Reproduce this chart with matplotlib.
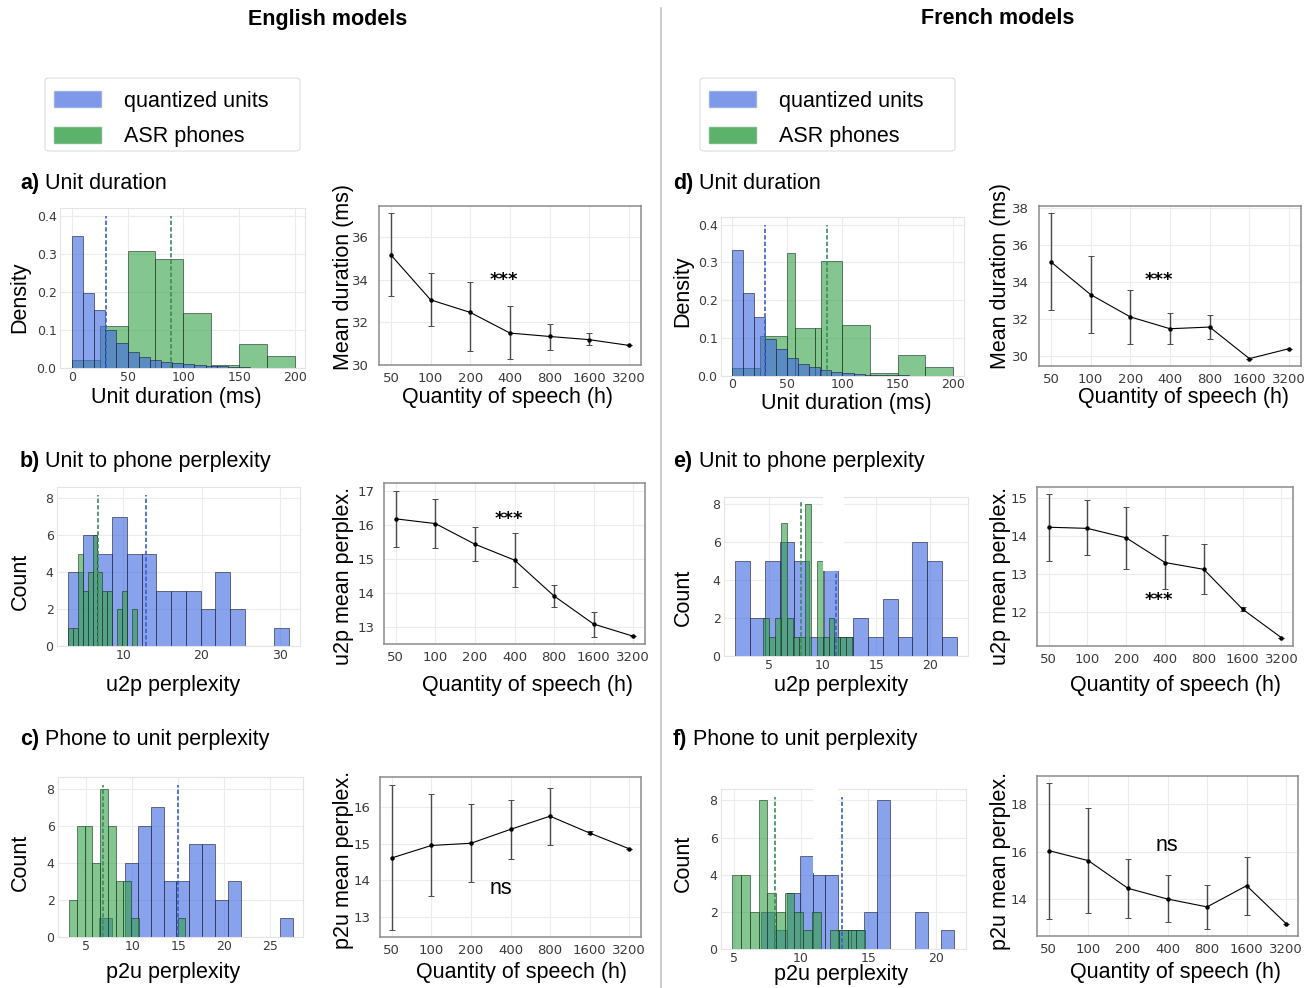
import numpy as np
import matplotlib
matplotlib.use("Agg")
import matplotlib.pyplot as plt
from matplotlib.patches import Patch, Rectangle, FancyBboxPatch
from matplotlib.lines import Line2D
from matplotlib.transforms import blended_transform_factory

W, H = 1313, 988
plt.rcParams["font.family"] = ["Liberation Sans", "DejaVu Sans"]

hours = ["50", "100", "200", "400", "800", "1600", "3200"]

# ---------------- English: unit duration (density) ----------------
en_dur_unit_edges = [0, 10, 20, 30, 40, 50, 60, 70, 80, 90, 100, 110, 120, 130, 140, 150, 160]
en_dur_unit = [0.347, 0.199, 0.152, 0.101, 0.067, 0.043, 0.030, 0.022, 0.017, 0.012,
               0.0097, 0.007, 0.005, 0.004, 0.0035, 0.0026]
en_dur_asr_edges = [0, 25, 50, 75, 100, 125, 150, 175, 200]
en_dur_asr = [0.022, 0.110, 0.308, 0.288, 0.145, 0.007, 0.064, 0.032]
en_dur_means = (30.7, 88.7)  # units, phones

en_dur_mean = [35.17, 33.06, 32.47, 31.50, 31.34, 31.19, 30.92]
en_dur_hi = [37.13, 34.31, 33.88, 32.75, 31.94, 31.50, 30.92]
en_dur_lo = [33.25, 31.84, 30.64, 30.28, 30.72, 30.92, 30.92]

# ---------------- English: u2p perplexity (count) ----------------
en_u2p_unit_edges = [2.9, 4.79, 6.67, 8.56, 10.45, 12.33, 14.22, 16.11, 18.0, 19.88,
                     21.77, 23.66, 25.54, 27.43, 29.32, 31.2]
en_u2p_unit = [4, 6, 5, 7, 5, 5, 3, 3, 3, 2, 4, 2, 0, 0, 1]
en_u2p_asr_edges = [2.9, 3.53, 4.16, 4.79, 5.42, 6.05, 6.67, 7.3, 7.93, 8.56, 9.19,
                    9.82, 10.45, 11.08, 11.7]
en_u2p_asr = [1, 1, 5, 3, 4, 6, 4, 3, 3, 0, 2, 3, 0, 2]
en_u2p_means = (12.85, 6.72)

en_u2p_mean = [16.19, 16.05, 15.44, 14.97, 13.91, 13.08, 12.72]
en_u2p_hi = [17.02, 16.77, 15.94, 15.77, 14.23, 13.44, 12.72]
en_u2p_lo = [15.37, 15.33, 14.94, 14.17, 13.58, 12.71, 12.72]

# ---------------- English: p2u perplexity (count) ----------------
en_p2u_unit_edges = [6.38, 7.79, 9.2, 10.6, 12.0, 13.4, 14.8, 16.2, 17.6, 19.0, 20.4,
                     21.8, 23.3, 24.7, 26.1, 27.5]
en_p2u_unit = [1, 0, 4, 6, 7, 3, 3, 5, 5, 2, 3, 0, 0, 0, 1]
en_p2u_asr_edges = [3.11, 3.95, 4.8, 5.64, 6.49, 7.33, 8.17, 9.02, 9.86, 10.71, 11.55,
                    12.39, 13.24, 14.08, 14.93, 15.77]
en_p2u_asr = [2, 6, 6, 4, 8, 6, 3, 3, 1, 0, 0, 0, 0, 0, 1]
en_p2u_means = (14.93, 6.75)

en_p2u_mean = [14.61, 14.95, 15.01, 15.39, 15.75, 15.29, 14.86]
en_p2u_hi = [16.59, 16.36, 16.09, 16.20, 16.53, 15.34, 14.86]
en_p2u_lo = [12.63, 13.56, 13.94, 14.58, 14.95, 15.25, 14.86]

# ---------------- French: unit duration (density) ----------------
fr_dur_unit_edges = [0, 10, 20, 30, 40, 50, 60, 70, 80, 90, 100, 110, 120, 130, 140, 150, 160]
fr_dur_unit = [0.332, 0.218, 0.155, 0.099, 0.070, 0.048, 0.033, 0.023, 0.016, 0.0105,
               0.007, 0.005, 0.0035, 0.0026, 0.002, 0.0015]
fr_dur_asr_edges = [0, 25, 50, 57, 75, 81, 100, 125, 150, 175, 200]
fr_dur_asr = [0.022, 0.106, 0.326, 0.127, 0.127, 0.305, 0.135, 0.007, 0.055, 0.024]
fr_dur_means = (30.1, 85.7)

fr_dur_mean = [35.10, 33.33, 32.12, 31.48, 31.57, 29.86, 30.40]
fr_dur_hi = [37.73, 35.41, 33.57, 32.33, 32.20, 29.86, 30.40]
fr_dur_lo = [32.52, 31.26, 30.67, 30.63, 30.90, 29.86, 30.40]

# ---------------- French: u2p perplexity (count) ----------------
fr_u2p_unit_edges = [1.86, 3.24, 4.61, 5.99, 7.36, 8.74, 10.12, 11.49, 12.87, 14.24,
                     15.62, 17.0, 18.37, 19.75, 21.12, 22.5]
fr_u2p_unit = [5, 2, 5, 6, 5, 1, 5, 1, 2, 1, 3, 1, 6, 5, 1]
fr_u2p_asr_edges = [4.44, 5.0, 5.55, 6.11, 6.66, 7.22, 7.78, 8.33, 8.89, 9.44, 10.0,
                    10.56, 11.11, 11.67, 12.22, 12.78]
fr_u2p_asr = [2, 1, 2, 7, 2, 1, 1, 8, 0, 5, 1, 2, 1, 1, 1]
fr_u2p_means = (11.27, 8.01)

fr_u2p_mean = [14.23, 14.20, 13.95, 13.30, 13.12, 12.07, 11.32]
fr_u2p_hi = [15.10, 14.94, 14.75, 14.02, 13.80, 12.13, 11.32]
fr_u2p_lo = [13.34, 13.49, 13.14, 12.59, 12.46, 12.02, 11.32]

# ---------------- French: p2u perplexity (count) ----------------
fr_p2u_unit_edges = [7.05, 8.0, 8.96, 9.91, 10.87, 11.82, 12.78, 13.73, 14.68, 15.64,
                     16.59, 17.55, 18.5, 19.46, 20.41, 21.37]
fr_p2u_unit = [2, 1, 3, 5, 4, 4, 1, 1, 2, 8, 0, 0, 2, 0, 1]
fr_p2u_asr_edges = [4.88, 5.54, 6.2, 6.86, 7.52, 8.18, 8.84, 9.5, 10.16, 10.82, 11.48,
                    12.14, 12.8, 13.46, 14.12, 14.78]
fr_p2u_asr = [4, 4, 2, 8, 3, 2, 3, 2, 1, 2, 0, 1, 1, 1, 1]
fr_p2u_means = (13.03, 8.09)

fr_p2u_mean = [16.04, 15.62, 14.46, 14.01, 13.68, 14.57, 12.98]
fr_p2u_hi = [18.87, 17.82, 15.68, 15.00, 14.59, 15.76, 12.98]
fr_p2u_lo = [13.19, 13.41, 13.20, 13.03, 12.74, 13.36, 12.98]

BLUE = "royalblue"
GREEN = "#32a046"
BLUE_LINE = "#3a5fcd"
GREEN_LINE = "#3d8c5a"
FS = 15.5

fig = plt.figure(figsize=(W / 100, H / 100), dpi=100)


def add_ax(l, t, r, b):
    return fig.add_axes([l / W, 1 - b / H, (r - l) / W, (b - t) / H])


def style_ticks(ax, size):
    ax.tick_params(length=0, labelsize=size, labelcolor="#3a3a3a",
                   labelfontfamily="DejaVu Sans")


def labels(ax, xlabel, xpos, ylabel, ypos):
    ax.set_xlabel(xlabel, fontsize=FS, va="center")
    ax.xaxis.set_label_coords(xpos[0] / W, 1 - xpos[1] / H, transform=fig.transFigure)
    ax.set_ylabel(ylabel, fontsize=FS, va="center")
    ax.yaxis.set_label_coords(ypos[0] / W, 1 - ypos[1] / H, transform=fig.transFigure)


def hist_panel(box, ue, uv, ge, gv, means, top, blue_on_top, xlim, ylim, xticks, yticks):
    ax = add_ax(*box)
    zb, zg = (3, 2) if blue_on_top else (2, 3)
    ax.hist(ue[:-1], bins=ue, weights=uv, color=BLUE, alpha=0.62,
            edgecolor="#1c2340", linewidth=0.7, zorder=zb)
    ax.hist(ge[:-1], bins=ge, weights=gv, color=GREEN, alpha=0.6,
            edgecolor="#1c3322", linewidth=0.7, zorder=zg)
    dash = (0, (2.6, 1.3))
    ax.vlines(means[0], 0, top, colors=BLUE_LINE, linestyles=dash, lw=1.2, zorder=4)
    ax.vlines(means[1], 0, top, colors=GREEN_LINE, linestyles=dash, lw=1.2, zorder=4)
    ax.set_xlim(*xlim)
    ax.set_ylim(*ylim)
    ax.set_xticks(xticks)
    ax.set_yticks(yticks)
    ax.grid(True, color="#ececec", lw=0.8)
    ax.set_axisbelow(True)
    for s in ax.spines.values():
        s.set_color("#e4e4e4")
    style_ticks(ax, 9)
    ax.tick_params(pad=2.5)
    return ax


def line_panel(box, mean, lo, hi, ylim, yticks, mark, mark_xy, mark_fs, mark_family, mark_w):
    ax = add_ax(*box)
    x = np.arange(len(hours))
    m = np.array(mean)
    err = [m - np.array(lo), np.array(hi) - m]
    ax.errorbar(x, m, yerr=err, color="black", lw=0.8, marker="o", ms=2.2,
                ecolor="#4a4a4a", elinewidth=1.0, capsize=2, capthick=0.7)
    ax.text(mark_xy[0], mark_xy[1], mark, ha="center", va="center",
            fontsize=mark_fs, family=mark_family, weight=mark_w)
    ax.set_xticks(x, hours)
    ax.set_yticks(yticks)
    ax.set_xlim(-0.3, 6.3)
    ax.set_ylim(*ylim)
    ax.grid(True, color="#ececec", lw=0.8)
    ax.set_axisbelow(True)
    for s in ax.spines.values():
        s.set_color("#8c8c8c")
        s.set_linewidth(1.1)
    style_ticks(ax, 9.5)
    ax.tick_params(axis="x", pad=5)
    ax.tick_params(axis="y", pad=7)
    return ax


def white_patch(ax, x0, x1, y0):
    tr = blended_transform_factory(ax.transData, ax.transAxes)
    ylo = ax.transLimits.transform((0, y0))[1]
    ax.add_patch(Rectangle((x0, ylo), x1 - x0, 1.05 - ylo, transform=tr,
                           facecolor="white", edgecolor="none", zorder=5, clip_on=False))


# ---------------- English column ----------------
ax = hist_panel((60, 208, 305, 368), en_dur_unit_edges, en_dur_unit, en_dur_asr_edges,
                en_dur_asr, en_dur_means, 0.4, True, (-10.5, 209), (0, 0.422),
                [0, 50, 100, 150, 200], [0, 0.1, 0.2, 0.3, 0.4])
labels(ax, "Unit duration (ms)", (176, 398), "Density", (20, 297))

ax = line_panel((379, 206, 641, 365), en_dur_mean, en_dur_lo, en_dur_hi, (30, 37.47),
                [30, 32, 34, 36], "***", (2.85, 34.0), 13, "DejaVu Sans", "bold")
labels(ax, "Quantity of speech (h)", (507, 398), "Mean duration (ms)", (343, 277))

ax = hist_panel((57, 487, 300, 646), en_u2p_unit_edges, en_u2p_unit, en_u2p_asr_edges,
                en_u2p_asr, en_u2p_means, 8.18, False, (1.5, 32.6), (0, 8.6),
                [10, 20, 30], [0, 2, 4, 6, 8])
labels(ax, "u2p perplexity", (173, 686), "Count", (20, 581))

ax = line_panel((384, 483, 645, 644), en_u2p_mean, en_u2p_lo, en_u2p_hi, (12.49, 17.25),
                [13, 14, 15, 16, 17], "***", (2.87, 16.2), 13, "DejaVu Sans", "bold")
labels(ax, "Quantity of speech (h)", (527, 686), "u2p mean perplex.", (343, 576))

ax = hist_panel((58, 777, 303, 937), en_p2u_unit_edges, en_p2u_unit, en_p2u_asr_edges,
                en_p2u_asr, en_p2u_means, 8.2, False, (1.9, 28.6), (0, 8.63),
                [5, 10, 15, 20, 25], [0, 2, 4, 6, 8])
labels(ax, "p2u perplexity", (173, 972), "Count", (20, 862))

ax = line_panel((380, 777, 641, 937), en_p2u_mean, en_p2u_lo, en_p2u_hi, (12.45, 16.82),
                [13, 14, 15, 16], "ns", (2.76, 13.77), 15.5, "Liberation Sans", "normal")
labels(ax, "Quantity of speech (h)", (521, 972), "p2u mean perplex.", (343, 860))

# ---------------- French column ----------------
ax = hist_panel((721, 217, 964, 376), fr_dur_unit_edges, fr_dur_unit, fr_dur_asr_edges,
                fr_dur_asr, fr_dur_means, 0.4, True, (-9.9, 209.9), (0, 0.42),
                [0, 50, 100, 150, 200], [0, 0.1, 0.2, 0.3, 0.4])
ax.tick_params(axis="x", pad=1.5)
labels(ax, "Unit duration (ms)", (846, 403), "Density", (683, 291))

ax = line_panel((1039, 206, 1301, 366), fr_dur_mean, fr_dur_lo, fr_dur_hi, (29.46, 38.13),
                [30, 32, 34, 36, 38], "***", (2.71, 34.1), 13, "DejaVu Sans", "bold")
labels(ax, "Quantity of speech (h)", (1184, 398), "Mean duration (ms)", (1000, 276))

ax = hist_panel((724, 497, 968, 656), fr_u2p_unit_edges, fr_u2p_unit, fr_u2p_asr_edges,
                fr_u2p_asr, fr_u2p_means, 8.2, False, (0.81, 23.57), (0, 8.39),
                [5, 10, 15, 20], [0, 2, 4, 6, 8])
white_patch(ax, 10.05, 12.05, 4.47)
labels(ax, "u2p perplexity", (841, 686), "Count", (683, 597))

ax = line_panel((1037, 487, 1293, 646), fr_u2p_mean, fr_u2p_lo, fr_u2p_hi, (11.1, 15.29),
                [12, 13, 14, 15], "***", (2.83, 12.3), 13, "DejaVu Sans", "bold")
labels(ax, "Quantity of speech (h)", (1175, 686), "u2p mean perplex.", (1000, 576))

ax = hist_panel((721, 789, 966, 949), fr_p2u_unit_edges, fr_p2u_unit, fr_p2u_asr_edges,
                fr_p2u_asr, fr_p2u_means, 8.18, False, (4.07, 22.25), (0, 8.61),
                [5, 10, 15, 20], [0, 2, 4, 6, 8])
white_patch(ax, 10.93, 12.78, 4.1)
labels(ax, "p2u perplexity", (841, 974), "Count", (683, 863))

ax = line_panel((1037, 776, 1298, 936), fr_p2u_mean, fr_p2u_lo, fr_p2u_hi, (12.46, 19.17),
                [14, 16, 18], "ns", (2.98, 16.24), 15.5, "Liberation Sans", "normal")
labels(ax, "Quantity of speech (h)", (1175, 972), "p2u mean perplex.", (1000, 861))

# ---------------- titles, panel letters, legends ----------------
fig.text(328 / W, 1 - 19 / H, "English models", ha="center", va="center",
         fontsize=FS, weight="bold")
fig.text(998 / W, 1 - 19 / H, "French models", ha="center", va="center",
         fontsize=FS, weight="bold")

panel_titles = [
    ("a)", "Unit duration", 20, 45, 183),
    ("b)", "Unit to phone perplexity", 20, 45, 461),
    ("c)", "Phone to unit perplexity", 20, 45, 740),
    ("d)", "Unit duration", 673, 699, 183),
    ("e)", "Unit to phone perplexity", 673, 699, 461),
    ("f)", "Phone to unit perplexity", 673, 693, 740),
]
for letter, name, xl, xn, y in panel_titles:
    fig.text(xl / W, 1 - y / H, letter, ha="left", va="center", fontsize=FS, weight="bold")
    fig.text(xn / W, 1 - y / H, name, ha="left", va="center", fontsize=FS)

fig.add_artist(Line2D([661 / W, 661 / W], [1 - 8 / H, 0], transform=fig.transFigure,
                      color="#c4c4c4", lw=1.2))

handles = [Patch(facecolor=BLUE, alpha=0.68, edgecolor="#8ea6e0"),
           Patch(facecolor=GREEN, alpha=0.8, edgecolor="#6fb07a")]
for x0 in (45, 700):
    fig.add_artist(FancyBboxPatch((x0 / W, 1 - 151 / H), 255 / W, 73 / H,
                                  boxstyle="round,pad=0,rounding_size=0.003",
                                  transform=fig.transFigure, facecolor="white",
                                  edgecolor="#e2e2e2", lw=0.9, zorder=0))
    fig.legend(handles, ["quantized units", "ASR phones"], loc="upper left",
               bbox_to_anchor=(x0 / W, 1 - 82 / H), fontsize=FS, frameon=False,
               handlelength=2.2, handleheight=0.75, handletextpad=1.05,
               labelspacing=0.68, borderpad=0.4, borderaxespad=0)

fig.savefig("out.png", dpi=100)
